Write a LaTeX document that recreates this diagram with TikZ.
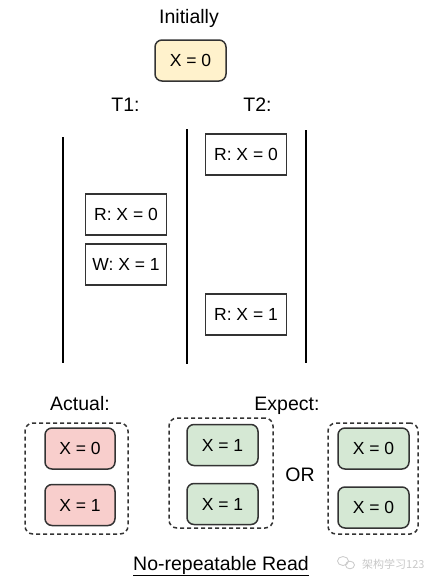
\documentclass[tikz,border=0pt]{standalone}
\usepackage{fontspec}
\setmainfont{Liberation Sans}
\newfontfamily\cjk{Noto Sans CJK SC}
\definecolor{yfill}{HTML}{FFF2CC}
\definecolor{rfill}{HTML}{F8CECC}
\definecolor{gfill}{HTML}{D5E8D4}
\definecolor{bord}{HTML}{333333}
\definecolor{wm}{HTML}{C8C8C8}
\tikzset{
  lbl/.style={font=\fontsize{19.5}{22}\selectfont, anchor=base, inner sep=0pt},
  valbox/.style={draw=bord, line width=1.5pt, rounded corners=7pt, minimum width=70pt, minimum height=41pt, inner sep=0pt, font=\fontsize{17.5}{20}\selectfont},
  opbox/.style={draw=bord, line width=1.5pt, minimum width=81pt, minimum height=41pt, inner sep=0pt, font=\fontsize{17.5}{20}\selectfont},
  dashbox/.style={draw=bord, line width=1.5pt, dash pattern=on 4pt off 3pt, rounded corners=8pt, inner sep=0pt},
  lifeline/.style={line width=2pt, black},
}
\begin{document}
\begin{tikzpicture}[x=1pt,y=-1pt]
\useasboundingbox (0,0) rectangle (435,587);

% header
\node[lbl] (init) at (189,23.3) {Initially};
\node[valbox, fill=yfill, minimum width=71pt] (x0) at (190.5,60.5) {X = 0};
\node[lbl] (t1) at (125.5,111) {T1:};
\node[lbl] (t2) at (257.5,111) {T2:};

% lifelines
\coordinate (l1a) at (62.5,137);
\coordinate (l1b) at (62.5,363);
\coordinate (l2a) at (186.7,129);
\coordinate (l2b) at (186.7,364);
\coordinate (l3a) at (305.7,130);
\coordinate (l3b) at (305.7,363);
\draw[lifeline] (l1a) -- (l1b);
\draw[lifeline] (l2a) -- (l2b);
\draw[lifeline] (l3a) -- (l3b);

% operations
\node[opbox] (t2r0) at (246,154.5) {R: X = 0};
\node[opbox] (t1r0) at (126,214.5) {R: X = 0};
\node[opbox] (t1w1) at (126,264.5) {W: X = 1};
\node[opbox] (t2r1) at (246,314.5) {R: X = 1};

% bottom labels
\node[lbl] (actual) at (80,410) {Actual:};
\node[lbl] (expect) at (287,410) {Expect:};
\node[lbl] (or) at (300,481.7) {OR};

% actual group
\node[dashbox, minimum width=103pt, minimum height=111pt] (ga) at (76.5,478.5) {};
\node[valbox, fill=rfill] (a0) at (80,448.5) {X = 0};
\node[valbox, fill=rfill] (a1) at (80,505) {X = 1};

% expect group 1
\node[dashbox, minimum width=104pt, minimum height=110pt] (ge1) at (221,473) {};
\node[valbox, fill=gfill, minimum width=71pt] (e11) at (222.5,445) {X = 1};
\node[valbox, fill=gfill, minimum width=71pt] (e12) at (222.5,504) {X = 1};

% expect group 2
\node[dashbox, minimum width=90pt, minimum height=111pt] (ge2) at (373,478.5) {};
\node[valbox, fill=gfill, minimum width=71pt] (e21) at (373.5,448.5) {X = 0};
\node[valbox, fill=gfill, minimum width=71pt] (e22) at (373.5,507.5) {X = 0};

% caption
\node[lbl] (cap) at (221,570) {\underline{No-repeatable Read}};

% watermark
\draw[wm, line width=0.8pt] (343,561) ellipse [x radius=5.5pt, y radius=4.5pt];
\draw[wm, line width=0.8pt] (350,565) ellipse [x radius=4.5pt, y radius=3.8pt];
\node[wm, anchor=base west, inner sep=0pt, font=\cjk\fontsize{11}{13}\selectfont] (wmt) at (362,568) {架构学习123};
\end{tikzpicture}
\end{document}
